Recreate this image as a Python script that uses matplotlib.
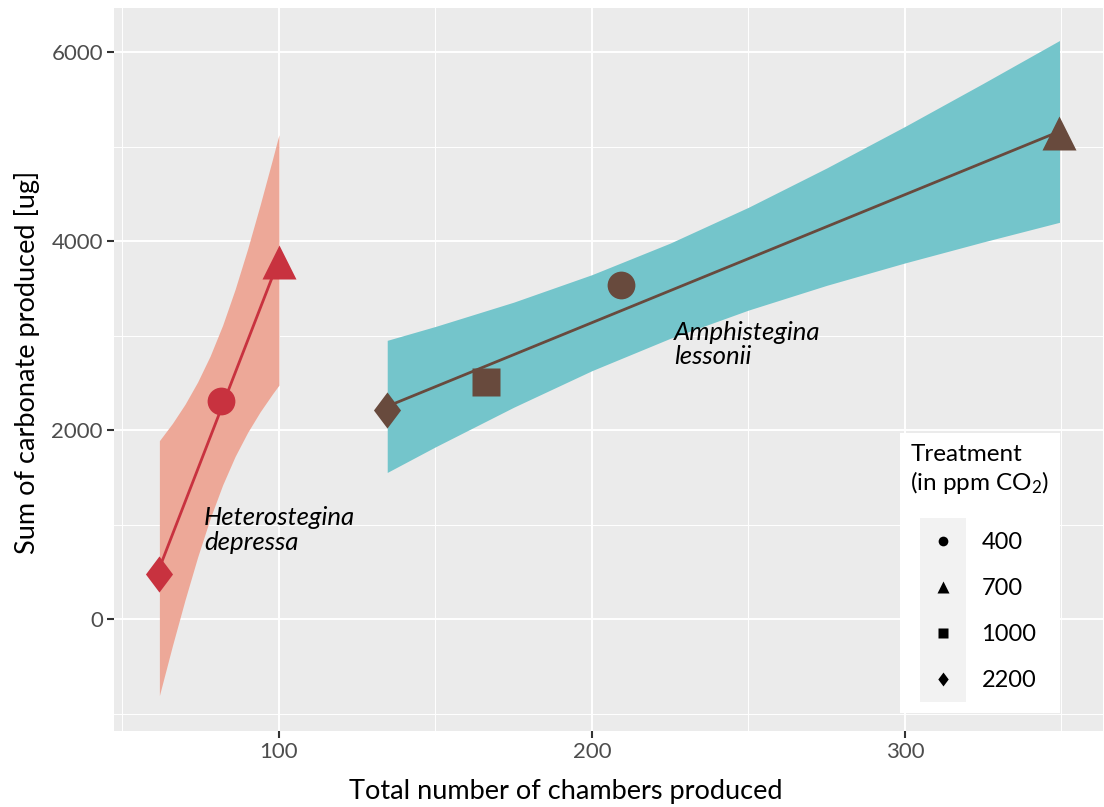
import matplotlib
matplotlib.use("Agg")
import matplotlib.pyplot as plt
from matplotlib.lines import Line2D
from matplotlib.patches import Rectangle
from matplotlib.legend_handler import HandlerBase

plt.rcParams['font.family'] = ['Lato', 'DejaVu Sans']
plt.rcParams['mathtext.default'] = 'regular'

# Heterostegina depressa
het_x = [61.8, 81.5, 100.0]
het_y = [478, 2310, 3780]
het_treat = ['2200', '400', '700']
het_fit_x = [61.8, 100.0]
het_fit_y = [538, 3800]
het_band_x = [61.8, 66, 70, 74, 78, 82, 86, 90, 94, 98, 100]
het_band_lo = [-810, -278, 203, 653, 1062, 1418, 1721, 1975, 2193, 2385, 2475]
het_band_hi = [1887, 2072, 2273, 2507, 2782, 3108, 3489, 3917, 4383, 4873, 5125]

# Amphistegina lessonii
amph_x = [134.6, 166.2, 209.4, 349.4]
amph_y = [2212, 2512, 3536, 5148]
amph_treat = ['2200', '1000', '400', '700']
amph_fit_x = [134.6, 349.4]
amph_fit_y = [2250, 5160]
amph_band_x = [134.6, 150, 175, 200, 225, 250, 275, 300, 325, 349.4]
amph_band_lo = [1551, 1822, 2241, 2628, 2970, 3269, 3531, 3768, 3990, 4198]
amph_band_hi = [2949, 3096, 3353, 3644, 3978, 4357, 4773, 5212, 5668, 6122]

treatments = ['400', '700', '1000', '2200']

diamond = [(0, 1), (0.75, 0), (0, -1), (-0.75, 0)]
markers = {'400': 'o', '700': '^', '1000': 's', '2200': diamond}
msizes = {'400': 20, '700': 25, '1000': 19.5, '2200': 26}
leg_sizes = {'400': 7, '700': 9, '1000': 6.5, '2200': 10}

red, red_fill = '#C8323F', '#EDA898'
brown, teal = '#684A3D', '#74C5CB'


class KeyHandler(HandlerBase):
    # grey key square, indented a little from the legend title
    def create_artists(self, legend, orig_handle, xdescent, ydescent, width, height, fontsize, trans):
        indent = 7
        rect = Rectangle((indent - xdescent, -ydescent), width - indent, height,
                         facecolor='#F2F2F2', edgecolor='none', transform=trans)
        mk = Line2D([indent + (width - indent) / 2 - xdescent], [height / 2 - ydescent],
                    ls='', marker=orig_handle.get_marker(), ms=orig_handle.get_markersize(),
                    color='black', mec='none', transform=trans)
        return [rect, mk]


fig = plt.figure(figsize=(11.04, 8.07), dpi=100)
ax = fig.add_axes([114 / 1104, 76 / 807, 989 / 1104, 723 / 807])
ax.set_facecolor('#EBEBEB')
for s in ax.spines.values():
    s.set_visible(False)

ax.set_xlim(47.3, 363.3)
ax.set_ylim(-1185, 6466)
ax.set_xticks([100, 200, 300])
ax.set_xticks([50, 150, 250, 350], minor=True)
ax.set_yticks([0, 2000, 4000, 6000])
ax.set_yticks([-1000, 1000, 3000, 5000], minor=True)
ax.grid(True, which='major', color='white', lw=1.4)
ax.grid(True, which='minor', color='white', lw=0.7)
ax.set_axisbelow(True)
ax.tick_params(which='major', length=5, width=1.5, color='#333333',
               labelsize=16, labelcolor='#4D4D4D', pad=3)
ax.tick_params(which='minor', length=0)

# confidence bands and fitted lines
ax.fill_between(het_band_x, het_band_lo, het_band_hi, color=red_fill, lw=0, zorder=1)
ax.fill_between(amph_band_x, amph_band_lo, amph_band_hi, color=teal, lw=0, zorder=1)
ax.plot(het_fit_x, het_fit_y, color=red, lw=2, zorder=2)
ax.plot(amph_fit_x, amph_fit_y, color=brown, lw=2, zorder=2)

for xs, ys, tr, col in [(het_x, het_y, het_treat, red), (amph_x, amph_y, amph_treat, brown)]:
    for x, y, t in zip(xs, ys, tr):
        ax.plot([x], [y], ls='', marker=markers[t], ms=msizes[t], color=col,
                mec='none', zorder=3)

ax.text(76.0, 942, 'Heterostegina\ndepressa', style='italic', fontsize=18.5,
        ha='left', va='center', linespacing=1.1)
ax.text(226.2, 2910, 'Amphistegina\nlessonii', style='italic', fontsize=18.5,
        ha='left', va='center', linespacing=1.05)

fig.text(566 / 1104, 1 - 792 / 807, 'Total number of chambers produced',
         fontsize=19.5, ha='center', va='center')
fig.text(27 / 1104, 1 - 362 / 807, 'Sum of carbonate produced [ug]',
         fontsize=19.5, ha='center', va='center', rotation=90)

handles = [Line2D([], [], ls='', marker=markers[t], ms=leg_sizes[t], color='black')
           for t in treatments]
leg = ax.legend(handles, treatments, handler_map={Line2D: KeyHandler()},
                title='Treatment\n(in ppm CO$_2$)', title_fontsize=17.5, fontsize=17,
                loc='lower right', bbox_to_anchor=(0.9565, 0.0249), borderaxespad=0,
                frameon=True, fancybox=False, framealpha=1, facecolor='white',
                edgecolor='none', alignment='left', labelspacing=0,
                handlelength=2.37, handleheight=2.62, handletextpad=0.64, borderpad=0.45)
leg._legend_box.sep = 16

fig.savefig('out.png', dpi=100)
